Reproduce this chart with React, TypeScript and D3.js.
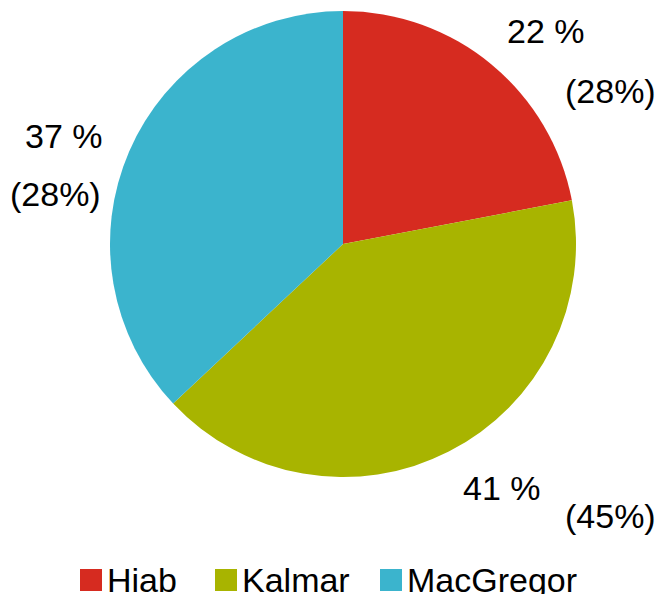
import React from "react";
import * as d3 from "d3";

const categories = ["Hiab", "Kalmar", "MacGregor"];
const values = [22, 41, 37];
const prevValues = [28, 45, 28];
const colors = ["#d62b20", "#a8b400", "#3bb4cd"];

const W = 668;
const H = 594;
const cx = 343;
const cy = 244;
const R = 233;

// label anchor positions (left x, baseline y) for current and previous values
const labelPos = [
  { a: [507, 43], b: [565, 103] },
  { a: [463, 500], b: [565, 528] },
  { a: [25, 148], b: [10, 206] },
];
const legendX = [80, 215, 380];

export default function App() {
  const pie = d3.pie<number>().sort(null).value((d) => d);
  const arcs = pie(values);
  const arc = d3.arc<d3.PieArcDatum<number>>().innerRadius(0).outerRadius(R);
  const font = "'Liberation Sans', Arial, sans-serif";
  return (
    <svg width={W} height={H} style={{ position: "absolute", left: 0, top: 0 }}>
      <g transform={`translate(${cx},${cy})`}>
        {arcs.map((a, i) => (
          <path key={i} d={arc(a) || ""} fill={colors[i]} />
        ))}
      </g>
      {categories.map((c, i) => (
        <g key={c} fontFamily={font} fontSize={34} fill="#000">
          <text x={labelPos[i].a[0]} y={labelPos[i].a[1]}>{`${values[i]} %`}</text>
          <text x={labelPos[i].b[0]} y={labelPos[i].b[1]}>{`(${prevValues[i]}%)`}</text>
        </g>
      ))}
      {categories.map((c, i) => (
        <g key={"lg" + c}>
          <rect x={legendX[i]} y={569} width={22} height={22} fill={colors[i]} />
          <text x={legendX[i] + 27} y={592} fontFamily={font} fontSize={34} fill="#000">
            {c}
          </text>
        </g>
      ))}
    </svg>
  );
}
